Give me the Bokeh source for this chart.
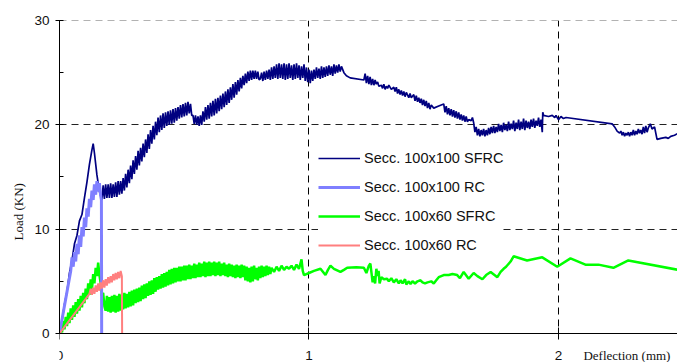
import math
from bokeh.plotting import figure
from bokeh.models import Range1d, FixedTicker, Legend, LegendItem, Title, Label, BoxAnnotation, Span
from bokeh.embed import file_html
from bokeh.resources import INLINE

# ---------------- data (deflection mm, load kN) ----------------
# Secc. 100x100 SFRC, in four stretches
sfrc100_rise_x = [0, 0.01, 0.02, 0.03, 0.04, 0.05, 0.06, 0.07, 0.08, 0.09, 0.10, 0.11, 0.12, 0.13, 0.135,
                  0.14, 0.15, 0.16]
sfrc100_rise_y = [0, 1.2, 2.8, 4.0, 5.8, 7.0, 8.6, 9.4, 10.8, 11.4, 13.0, 14.5, 16.2, 17.6, 18.2,
                  17.3, 15.2, 13.6]

sfrc100_band_x = [0.17, 0.175, 0.18, 0.185, 0.19, 0.195, 0.20, 0.205, 0.21, 0.215,
                  0.22, 0.225, 0.23, 0.235, 0.24, 0.245, 0.25, 0.255, 0.26, 0.265,
                  0.27, 0.275, 0.28, 0.285, 0.29, 0.295, 0.30, 0.305, 0.31, 0.315,
                  0.32, 0.325, 0.33, 0.335, 0.34, 0.345, 0.35, 0.355, 0.36, 0.365,
                  0.37, 0.375, 0.38, 0.385, 0.39, 0.395, 0.40, 0.405, 0.41, 0.415,
                  0.42, 0.425, 0.43, 0.435, 0.44, 0.445, 0.45, 0.455, 0.46, 0.465,
                  0.47, 0.475, 0.48, 0.485, 0.49, 0.495, 0.50, 0.505, 0.51, 0.515,
                  0.52, 0.525, 0.53, 0.535, 0.54, 0.545, 0.55, 0.555, 0.56, 0.565,
                  0.57, 0.575, 0.58, 0.585, 0.59, 0.595, 0.60, 0.605, 0.61, 0.615,
                  0.62, 0.625, 0.63, 0.635, 0.64, 0.645, 0.65, 0.655, 0.66, 0.665,
                  0.67, 0.675, 0.68, 0.685, 0.69, 0.695, 0.70, 0.705, 0.71, 0.715,
                  0.72, 0.725, 0.73, 0.735, 0.74, 0.745, 0.75, 0.755, 0.76, 0.765,
                  0.77, 0.775, 0.78, 0.785, 0.79, 0.795, 0.80]
sfrc100_band_y = [12.8, 14.2, 12.9, 14.3, 13.0, 14.3, 13.0, 14.4, 13.0, 14.3,
                  13.1, 14.5, 13.1, 14.6, 13.3, 14.6, 13.4, 14.9, 13.7, 15.3,
                  14.0, 15.7, 14.4, 16.1, 14.8, 16.6, 15.3, 17.0, 15.7, 17.5,
                  16.1, 17.8, 16.5, 18.2, 16.9, 18.6, 17.3, 19.1, 17.7, 19.5,
                  18.2, 19.9, 18.6, 20.3, 19.0, 20.7, 19.3, 20.9, 19.5, 21.1,
                  19.7, 21.2, 19.9, 21.3, 20.0, 21.4, 20.1, 21.5, 20.2, 21.6,
                  20.4, 21.7, 20.6, 21.9, 20.7, 22.0, 20.8, 22.1, 20.9, 22.2,
                  21.1, 22.0, 20.9, 20.9, 20.1, 20.9, 20.0, 20.8, 19.9, 20.9,
                  20.0, 21.3, 20.3, 21.7, 20.5, 21.9, 20.6, 22.1, 20.8, 22.3,
                  20.9, 22.5, 21.1, 22.6, 21.3, 22.8, 21.5, 23.0, 21.7, 23.2,
                  21.9, 23.4, 22.1, 23.6, 22.4, 23.9, 22.6, 24.1, 22.9, 24.3,
                  23.2, 24.5, 23.5, 24.7, 23.8, 24.9, 24.0, 25.1, 24.2, 25.2,
                  24.3, 25.2, 24.4, 25.2, 24.4, 25.1, 24.3]

sfrc100_top_x = [0.805, 0.81, 0.815, 0.82, 0.825, 0.83, 0.835, 0.84, 0.845, 0.85, 0.855, 0.86, 0.865, 0.87,
                 0.875, 0.88, 0.885, 0.89, 0.895, 0.90, 0.905, 0.91, 0.915, 0.92, 0.925, 0.93, 0.935, 0.94,
                 0.945, 0.95, 0.955, 0.96, 0.965, 0.97, 0.975, 0.98, 0.985, 0.99, 0.995, 1.00, 1.005, 1.01,
                 1.015, 1.02, 1.025, 1.03, 1.035, 1.04, 1.045, 1.05, 1.055, 1.06, 1.065, 1.07, 1.075, 1.08,
                 1.085, 1.09, 1.095, 1.10, 1.105, 1.11, 1.115, 1.12, 1.125, 1.13, 1.14, 1.15, 1.165]
sfrc100_top_y = [24.4, 25.0, 24.2, 25.1, 24.3, 25.2, 24.4, 25.3, 24.3, 25.5, 24.4, 25.6, 24.5, 25.8,
                 24.4, 25.9, 24.5, 25.8, 24.4, 25.9, 24.3, 25.8, 24.4, 25.9, 24.5, 25.7, 24.3, 25.8,
                 24.4, 25.9, 24.5, 25.7, 24.3, 25.6, 24.5, 25.8, 24.2, 25.5, 24.1, 25.3, 24.0, 25.2,
                 24.2, 25.3, 24.4, 25.5, 24.5, 25.4, 24.4, 25.6, 24.5, 25.5, 24.6, 25.6, 24.7, 25.7,
                 24.8, 25.6, 24.7, 25.8, 24.9, 25.7, 25.0, 25.8, 25.1, 25.6, 25.0, 24.7, 24.5]

sfrc100_tail_x = [1.22, 1.225, 1.23, 1.235, 1.24, 1.245, 1.25, 1.255, 1.26, 1.265, 1.27, 1.275,
                  1.28, 1.29, 1.295, 1.30, 1.305, 1.31, 1.315, 1.32, 1.33, 1.34, 1.345, 1.35, 1.355, 1.36, 1.365, 1.37,
                  1.375, 1.38, 1.385, 1.39, 1.40, 1.405, 1.41, 1.42, 1.425, 1.43, 1.435, 1.44, 1.445, 1.45, 1.455, 1.46,
                  1.465, 1.47, 1.475, 1.48, 1.485, 1.49, 1.50, 1.52, 1.54, 1.545, 1.55, 1.555, 1.56, 1.565, 1.57, 1.575,
                  1.58, 1.585, 1.59, 1.595, 1.60, 1.605, 1.61, 1.615, 1.62, 1.625, 1.63, 1.635, 1.64, 1.65, 1.655, 1.66,
                  1.665, 1.67, 1.675, 1.68, 1.685, 1.69, 1.695, 1.70, 1.705, 1.71, 1.715, 1.72, 1.725, 1.73, 1.735, 1.74,
                  1.745, 1.75, 1.755, 1.76, 1.765, 1.77, 1.775, 1.78, 1.785, 1.79, 1.795, 1.80, 1.805, 1.81, 1.815, 1.82,
                  1.825, 1.83, 1.835, 1.84, 1.845, 1.85, 1.855, 1.86, 1.865, 1.87, 1.875, 1.88, 1.885, 1.89, 1.895, 1.90,
                  1.905, 1.91, 1.915, 1.92, 1.925, 1.93, 1.935, 1.937, 1.94, 1.96, 1.975, 1.985, 1.99, 2.0, 2.01, 2.02,
                  2.03, 2.215, 2.225, 2.235, 2.245, 2.25, 2.255, 2.26, 2.265, 2.27, 2.275, 2.28, 2.285, 2.29, 2.295, 2.30,
                  2.305, 2.31, 2.315, 2.32, 2.325, 2.33, 2.335, 2.34, 2.345, 2.35, 2.355, 2.36, 2.368, 2.375, 2.385, 2.395,
                  2.41, 2.43, 2.44, 2.45, 2.465, 2.48]
sfrc100_tail_y = [24.3, 24.9, 24.0, 24.7, 23.9, 24.6, 23.8, 24.4, 23.8, 24.3, 23.9, 24.1,
                  23.7, 23.8, 23.5, 23.9, 23.4, 23.7, 23.5, 23.8, 23.4, 23.6, 23.2, 23.6, 23.0, 23.4, 22.9, 23.3,
                  22.8, 23.2, 22.7, 23.1, 22.6, 23.0, 22.6, 22.9, 22.3, 22.8, 22.2, 22.6, 22.1, 22.5, 21.9, 22.4,
                  21.8, 22.3, 21.6, 22.1, 21.5, 21.9, 21.6, 21.8, 22.0, 21.2, 21.8, 21.0, 21.6, 20.9, 21.5, 20.8,
                  21.4, 20.7, 21.3, 20.6, 21.2, 20.5, 21.0, 20.4, 20.9, 20.3, 20.8, 20.3, 20.5, 20.4, 20.7, 20.2,
                  19.3, 19.8, 19.0, 19.6, 18.9, 19.5, 19.0, 19.6, 18.9, 19.5, 19.0, 19.7, 19.1, 19.8, 19.2, 19.9,
                  19.2, 19.8, 19.3, 20.1, 19.4, 20.0, 19.3, 20.2, 19.5, 20.0, 19.4, 20.3, 19.5, 20.1, 19.6, 20.4,
                  19.4, 20.2, 19.6, 20.5, 19.5, 20.3, 19.6, 20.6, 19.5, 20.4, 19.7, 20.3, 19.6, 20.5, 19.8, 20.6,
                  19.7, 20.4, 19.9, 20.7, 19.8, 20.5, 19.3, 21.2, 20.9, 20.8, 20.9, 20.7, 20.9, 20.5, 20.8, 20.6,
                  20.7, 20.1, 19.8, 19.4, 19.2, 19.4, 19.0, 19.3, 18.9, 19.2, 19.0, 19.3, 18.9, 19.3, 19.0, 19.5,
                  19.0, 19.4, 19.1, 19.6, 19.2, 19.5, 19.1, 19.8, 19.2, 19.9, 19.3, 19.7, 20.1, 19.6, 19.8, 18.6,
                  18.7, 18.8, 18.7, 18.9, 19.0, 19.2]

# Secc. 100x100 RC
rc100_x = [0, 0.045, 0.05, 0.055, 0.06, 0.065, 0.07, 0.075, 0.08, 0.085, 0.09, 0.095, 0.10, 0.105, 0.11, 0.115,
           0.12, 0.125, 0.13, 0.135, 0.14, 0.145, 0.15, 0.155, 0.16, 0.165, 0.168, 0.169]
rc100_y = [0, 6.0, 7.3, 6.4, 7.8, 6.9, 8.6, 7.6, 9.4, 8.3, 10.2, 9.3, 11.1, 10.2, 12.0, 11.2,
           12.9, 12.1, 13.7, 12.8, 14.3, 13.3, 14.6, 13.6, 14.4, 13.2, 12.8, 0]

# Secc. 100x60 SFRC
sfrc60_x = [0, 0.005, 0.01, 0.015, 0.02, 0.025, 0.03, 0.035, 0.04, 0.045, 0.05, 0.055, 0.06, 0.065, 0.07, 0.075,
            0.08, 0.085, 0.09, 0.095, 0.10, 0.105, 0.11, 0.115, 0.12, 0.125, 0.13, 0.135, 0.14, 0.145, 0.15, 0.155,
            0.16, 0.165, 0.17, 0.175, 0.18, 0.185, 0.19, 0.195, 0.20, 0.205, 0.21, 0.215, 0.22, 0.225, 0.23, 0.235,
            0.24, 0.245, 0.25, 0.255, 0.26, 0.265, 0.27, 0.275, 0.28, 0.285, 0.29, 0.295, 0.30, 0.305, 0.31, 0.315,
            0.32, 0.325, 0.33, 0.335, 0.34, 0.345, 0.35, 0.355, 0.36, 0.365, 0.37, 0.375, 0.38, 0.385, 0.39, 0.395,
            0.40, 0.405, 0.41, 0.415, 0.42, 0.425, 0.43, 0.435, 0.44, 0.445, 0.45, 0.455, 0.46, 0.465, 0.47, 0.475,
            0.48, 0.485, 0.49, 0.495, 0.50, 0.505, 0.51, 0.515, 0.52, 0.525, 0.53, 0.535, 0.54, 0.545, 0.55, 0.555,
            0.56, 0.565, 0.57, 0.575, 0.58, 0.585, 0.59, 0.595, 0.60, 0.605, 0.61, 0.615, 0.62, 0.625, 0.63, 0.635,
            0.64, 0.645, 0.65, 0.655, 0.66, 0.665, 0.67, 0.675, 0.68, 0.685, 0.69, 0.695, 0.70, 0.705, 0.71, 0.715,
            0.72, 0.725, 0.73, 0.735, 0.74, 0.745, 0.75, 0.755, 0.76, 0.765, 0.77, 0.775, 0.78, 0.785, 0.79, 0.795,
            0.80, 0.805, 0.81, 0.815, 0.82, 0.825, 0.83, 0.835, 0.84, 0.845, 0.85, 0.86, 0.87, 0.88, 0.89, 0.90,
            0.91, 0.92, 0.93, 0.94, 0.95, 0.96, 0.97, 0.975, 0.98, 1.00, 1.02, 1.046, 1.066, 1.076, 1.086, 1.10,
            1.126, 1.14, 1.153, 1.19, 1.22, 1.23, 1.24, 1.246, 1.25, 1.255, 1.26, 1.265, 1.27, 1.275, 1.279, 1.283,
            1.29, 1.30, 1.313, 1.32, 1.33, 1.34, 1.35, 1.36, 1.367, 1.375, 1.385, 1.39, 1.40, 1.407, 1.415, 1.425,
            1.435, 1.447, 1.455, 1.465, 1.475, 1.49, 1.50, 1.51, 1.52, 1.54, 1.56, 1.575, 1.594, 1.605, 1.62, 1.64,
            1.66, 1.675, 1.695, 1.71, 1.728, 1.755, 1.768, 1.78, 1.79, 1.808, 1.82, 1.874, 1.935, 1.995, 2.048, 2.108,
            2.16, 2.22, 2.28, 2.48]
sfrc60_y = [0, 0.8, 0.1, 1.2, 0.4, 1.6, 0.7, 2.0, 1.0, 2.4, 1.3, 2.7, 1.6, 3.0, 1.9, 3.3,
            2.2, 3.6, 2.5, 3.9, 2.9, 4.3, 3.3, 4.8, 3.7, 5.2, 4.2, 5.7, 4.8, 6.3, 5.5, 6.8,
            5.6, 4.8, 3.6, 3.9, 2.6, 2.2, 3.6, 2.1, 3.5, 2.0, 3.6, 2.1, 3.7, 2.0, 3.6, 2.1,
            3.8, 2.2, 3.7, 2.3, 3.9, 2.4, 3.8, 2.5, 4.0, 2.6, 4.1, 2.7, 4.2, 2.9, 4.3, 3.0,
            4.4, 3.1, 4.6, 3.3, 4.7, 3.4, 4.8, 3.6, 5.0, 3.7, 5.1, 3.8, 5.3, 4.0, 5.4, 4.2,
            5.5, 4.3, 5.7, 4.4, 5.8, 4.5, 5.9, 4.6, 6.1, 4.7, 6.2, 4.8, 6.3, 4.9, 6.3, 5.0,
            6.4, 5.0, 6.4, 5.1, 6.5, 5.1, 6.5, 5.2, 6.6, 5.2, 6.5, 5.3, 6.7, 5.3, 6.6, 5.4,
            6.8, 5.4, 6.7, 5.5, 6.9, 5.4, 6.8, 5.5, 6.9, 5.5, 6.8, 5.6, 6.9, 5.5, 6.8, 5.6,
            6.9, 5.5, 6.7, 5.6, 6.8, 5.5, 6.6, 5.4, 6.7, 5.5, 6.6, 5.4, 6.5, 5.3, 6.6, 5.4,
            6.5, 5.3, 6.6, 5.4, 6.5, 5.1, 6.4, 5.0, 6.3, 4.9, 6.4, 5.0, 6.5, 5.2, 6.3, 5.1,
            6.4, 5.3, 6.5, 5.4, 6.4, 5.5, 6.5, 5.6, 6.4, 5.7, 6.3, 5.9, 6.4, 6.0, 6.5, 6.1,
            6.4, 6.2, 6.5, 6.1, 6.6, 6.2, 7.1, 6.0, 5.6, 5.8, 6.0, 6.2, 5.6, 6.1, 6.5, 6.2,
            5.9, 6.1, 6.3, 6.35, 6.3, 5.8, 6.5, 6.7, 5.9, 4.9, 5.5, 4.8, 6.2, 5.5, 6.0, 4.8,
            5.4, 5.2, 5.25, 5.0, 5.3, 4.9, 5.2, 4.8, 5.1, 4.8, 5.2, 4.7, 5.0, 4.75, 5.0, 4.8,
            5.0, 5.1, 4.9, 4.8, 4.9, 5.0, 4.8, 5.1, 5.4, 5.6, 5.6, 5.7, 5.6, 5.3, 5.9, 5.25,
            5.8, 5.5, 5.2, 5.6, 5.9, 5.4, 5.9, 6.2, 6.4, 6.9, 7.4, 7.0, 7.3, 6.4, 7.2, 6.6,
            6.6, 6.3, 7.0, 6.1]

# Secc. 100x60 RC
rc60_x = [0, 0.12, 0.125, 0.13, 0.135, 0.14, 0.145, 0.15, 0.155, 0.16, 0.165, 0.17, 0.175, 0.18, 0.185,
          0.19, 0.195, 0.20, 0.205, 0.21, 0.215, 0.22, 0.225, 0.23, 0.235, 0.24, 0.245, 0.25, 0.251]
rc60_y = [0, 3.8, 4.3, 3.7, 4.4, 3.8, 4.6, 4.0, 4.8, 4.1, 4.9, 4.3, 5.1, 4.4, 5.2,
          4.6, 5.4, 4.8, 5.5, 4.9, 5.7, 5.1, 5.8, 5.2, 5.9, 5.3, 6.0, 5.5, 0]

series_names = ["Secc. 100x100 SFRC", "Secc. 100x100 RC", "Secc. 100x60 SFRC", "Secc. 100x60 RC"]
x_ticks = [0, 1, 2]
y_ticks = [0, 10, 20, 30]

sfrc100_x = sfrc100_rise_x + sfrc100_band_x + sfrc100_top_x + sfrc100_tail_x
sfrc100_y = sfrc100_rise_y + sfrc100_band_y + sfrc100_top_y + sfrc100_tail_y

# ---------------- figure ----------------
# the frame runs down to the canvas bottom; the x axis is pinned at load 0 so its
# tick labels and title share one line, as in the original
p = figure(width=677, height=362, output_backend="svg", toolbar_location=None,
           x_range=Range1d(0, 2.477), y_range=Range1d(-2.78, 30),
           min_border_left=59, min_border_right=0, min_border_top=20, min_border_bottom=0)
p.outline_line_color = None
p.background_fill_color = "white"
p.border_fill_color = "white"

FONT = "Liberation Sans"
SERIF = "Liberation Serif"

p.xaxis.ticker = FixedTicker(ticks=x_ticks)
p.yaxis.ticker = FixedTicker(ticks=y_ticks, minor_ticks=[5, 15, 25])
p.xaxis.fixed_location = 0
p.yaxis.bounds = (0, 30)
for ax in (p.xaxis, p.yaxis):
    ax.axis_line_color = "black"
    ax.axis_line_width = 1
    ax.major_tick_line_color = "black"
    ax.minor_tick_line_color = "black"
    ax.major_label_text_font = FONT
    ax.major_label_text_font_size = "13.5px"
    ax.major_label_text_color = "#111111"
p.xaxis.major_tick_in = 6
p.xaxis.major_tick_out = 6
p.xaxis.minor_tick_in = 0
p.xaxis.minor_tick_out = 0
p.xaxis.major_label_standoff = 12
p.yaxis.major_tick_in = 4
p.yaxis.major_tick_out = 4
p.yaxis.minor_tick_in = 4
p.yaxis.minor_tick_out = 0
p.yaxis.major_label_standoff = 6

# y axis title as a side title, placed low like the original
p.add_layout(Title(text="Load (KN)", align="left", offset=122, text_font=SERIF,
                   text_font_size="13px", text_font_style="normal", text_color="#111111",
                   standoff=12), "left")

p.xgrid.ticker = FixedTicker(ticks=[1, 2])
p.ygrid.ticker = FixedTicker(ticks=[10, 20])
p.xgrid.grid_line_color = "black"
p.xgrid.grid_line_dash = "7 5"
p.ygrid.grid_line_color = "#222222"
p.ygrid.grid_line_dash = "7 5"
# dashed line along the top of the plot (load 30)
p.add_layout(Span(location=y_ticks[-1], dimension="width", line_color="#666666",
                  line_dash="7 5", line_width=1, level="underlay"))

# keep the grid above load 0 only
p.add_layout(BoxAnnotation(top=0, fill_color="white", fill_alpha=1.0, line_alpha=0,
                           level="underlay"))

r1 = p.line(sfrc100_x, sfrc100_y, line_color="#000080", line_width=1.7)
r3 = p.line(sfrc60_x, sfrc60_y, line_color="#00ff00", line_width=2.5)
r2 = p.line(rc100_x, rc100_y, line_color="#7f7fff", line_width=3)
r4 = p.line(rc60_x, rc60_y, line_color="#ff7f7f", line_width=2)

legend = Legend(items=[LegendItem(label=series_names[0], renderers=[r1]),
                       LegendItem(label=series_names[1], renderers=[r2]),
                       LegendItem(label=series_names[2], renderers=[r3]),
                       LegendItem(label=series_names[3], renderers=[r4])],
                location=(259, 107), orientation="vertical",
                border_line_color=None, background_fill_color="white", background_fill_alpha=1.0,
                padding=6, margin=0, spacing=9, glyph_width=42, glyph_height=20, label_height=20,
                label_standoff=4, label_text_font=FONT, label_text_font_size="14.5px",
                label_text_color="#111111")
p.add_layout(legend)

p.add_layout(Label(x=2.10, y=-2.11, text="Deflection (mm)", text_align="left",
                   text_baseline="middle", text_font=SERIF, text_font_size="13px",
                   text_color="#111111"))

open("out.html", "w").write(file_html(p, INLINE))
